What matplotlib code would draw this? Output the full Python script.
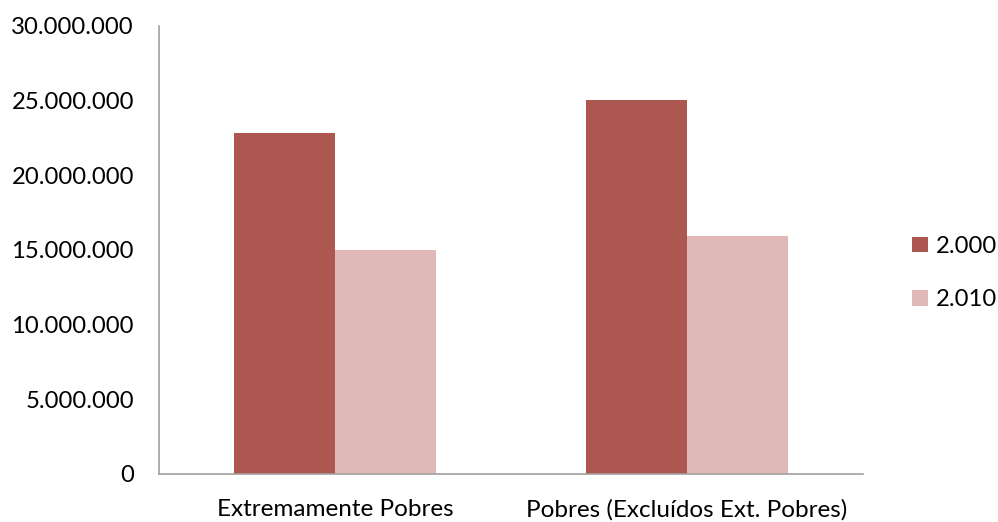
import numpy as np
import matplotlib.pyplot as plt

categorias = ["Extremamente Pobres", "Pobres (Excluídos Ext. Pobres)"]
anos = ["2.000", "2.010"]
pop_2000 = [22850000, 25070000]
pop_2010 = [15000000, 15950000]
cores = ["#AD5751", "#E0B8B7"]

plt.rcParams['font.family'] = ['Lato', 'DejaVu Sans']

fig = plt.figure(figsize=(9.98, 5.22), dpi=100)
ax = fig.add_axes([159/998, 48/522, (863-159)/998, (474-26)/522])

x = np.arange(len(categorias))
larg = 0.287
ax.bar(x - larg/2, pop_2000, larg, color=cores[0], label=anos[0])
ax.bar(x + larg/2, pop_2010, larg, color=cores[1], label=anos[1])

ax.set_xlim(-0.5, 1.5)
ax.set_ylim(0, 30000000)
ax.set_yticks(np.arange(0, 30000001, 5000000))
ax.set_yticklabels([f"{int(v):,}".replace(",", ".") for v in ax.get_yticks()])
ax.set_xticks(x)
ax.set_xticklabels(categorias)

for s in ["top", "right"]:
    ax.spines[s].set_visible(False)
for s in ["left", "bottom"]:
    ax.spines[s].set_color("#A0A0A0")
    ax.spines[s].set_linewidth(1.2)
ax.tick_params(axis='y', length=0, labelsize=17.2, pad=18)
ax.tick_params(axis='x', length=0, labelsize=17.5, pad=18)

ax.legend(loc='center left', bbox_to_anchor=(912/998, 0.477),
          bbox_transform=fig.transFigure, borderaxespad=0, borderpad=0,
          frameon=False, fontsize=17.2, handlelength=0.65, handleheight=0.65,
          handletextpad=0.35, labelspacing=1.35)

plt.savefig('out.png')
